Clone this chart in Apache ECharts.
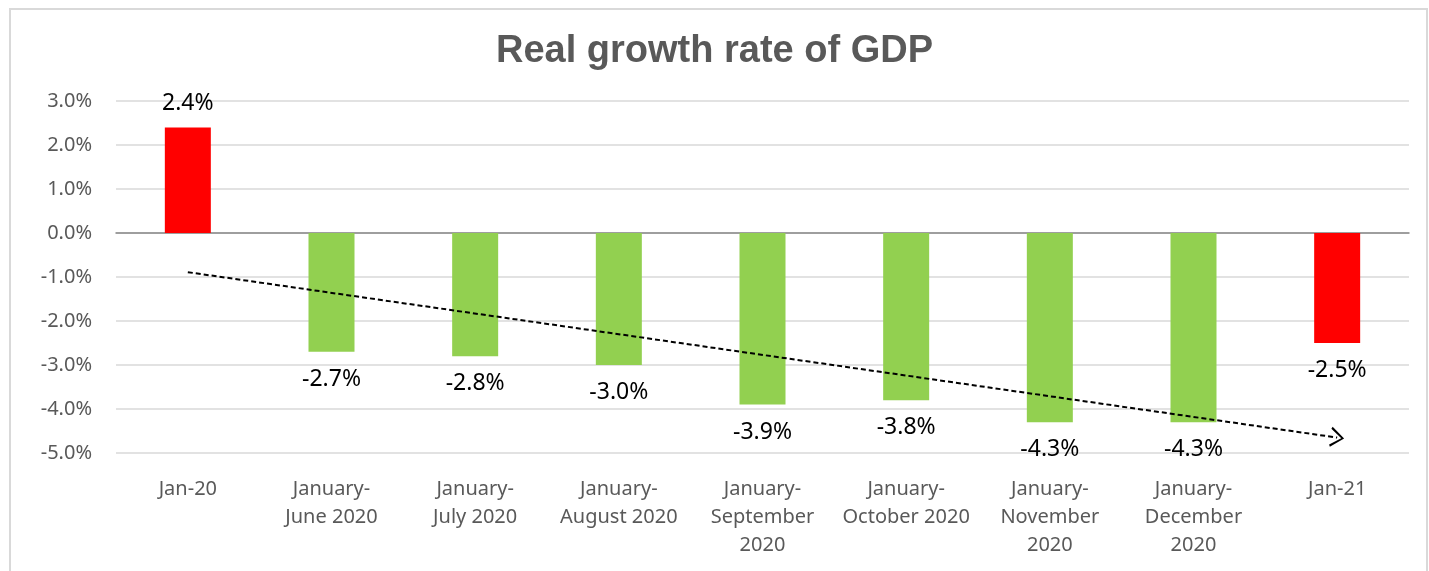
<!DOCTYPE html>
<html>
<head>
<meta charset="utf-8">
<script src="https://cdn.jsdelivr.net/npm/echarts@6/dist/echarts.min.js"></script>
<style>
  html, body { margin: 0; padding: 0; background: #fff; }
  #chart { width: 1429px; height: 571px; }
</style>
</head>
<body>
<div id="chart"></div>
<script>
var categories = [
  'Jan-20',
  'January-\nJune 2020',
  'January-\nJuly 2020',
  'January-\nAugust 2020',
  'January-\nSeptember\n2020',
  'January-\nOctober 2020',
  'January-\nNovember\n2020',
  'January-\nDecember\n2020',
  'Jan-21'
];
var growth = [2.4, -2.7, -2.8, -3.0, -3.9, -3.8, -4.3, -4.3, -2.5];
// single-month figures (drawn red), the rest are cumulative (green)
var monthly = ['Jan-20', 'Jan-21'];
// dashed trend line, read at its two ends
var trendValues = [-0.89, -4.65];

var chart = echarts.init(document.getElementById('chart'));

var option = {
  animation: false,
  title: {
    text: 'Real growth rate of GDP',
    left: 'center',
    top: 28,
    textStyle: {
      fontFamily: 'Liberation Sans',
      fontWeight: 'bold',
      fontSize: 38,
      color: '#595959'
    }
  },
  graphic: [{
    type: 'rect',
    shape: { x: 10, y: 9, width: 1417, height: 600 },
    style: { fill: 'none', stroke: '#d9d9d9', lineWidth: 2 },
    silent: true
  }],
  grid: { left: 116, right: 20, top: 101, bottom: 118 },
  xAxis: {
    type: 'category',
    data: categories,
    axisTick: { show: false },
    axisLine: { lineStyle: { color: '#888888', width: 1.5 } },
    axisLabel: {
      interval: 0,
      margin: 22,
      fontFamily: 'Noto Sans',
      fontSize: 20,
      lineHeight: 28,
      color: '#595959'
    }
  },
  yAxis: {
    type: 'value',
    min: -5,
    max: 3,
    interval: 1,
    axisLabel: {
      margin: 24,
      fontFamily: 'Noto Sans',
      fontSize: 20,
      color: '#595959',
      formatter: function (v) { return v.toFixed(1) + '%'; }
    },
    splitLine: { lineStyle: { color: '#d9d9d9', width: 1.5 } }
  },
  series: [{
    type: 'bar',
    barWidth: 46,
    itemStyle: {
      color: function (p) {
        return monthly.indexOf(p.name) >= 0 ? '#ff0000' : '#92d050';
      }
    },
    label: {
      show: true,
      fontFamily: 'Noto Sans',
      fontSize: 23,
      color: '#000',
      formatter: function (p) { return p.value.toFixed(1) + '%'; }
    },
    markLine: {
      silent: true,
      symbol: ['none', 'path://M0,10 L5,0 L10,10 L9,10.8 L5,2.2 L1,10.8 Z'],
      symbolSize: [20, 14],
      label: { show: false },
      lineStyle: { color: '#000', type: [5, 3], width: 2 },
      data: [[
        { coord: [0, trendValues[0]] },
        { coord: [categories.length - 1, trendValues[1]] }
      ]]
    }
  }]
};

// negative values get their labels under the bar end
option.series[0].data = growth.map(function (v) {
  return {
    value: v,
    label: v < 0 ? { position: 'bottom', distance: 16 } : { position: 'top', distance: 12 }
  };
});

chart.setOption(option);
</script>
</body>
</html>
